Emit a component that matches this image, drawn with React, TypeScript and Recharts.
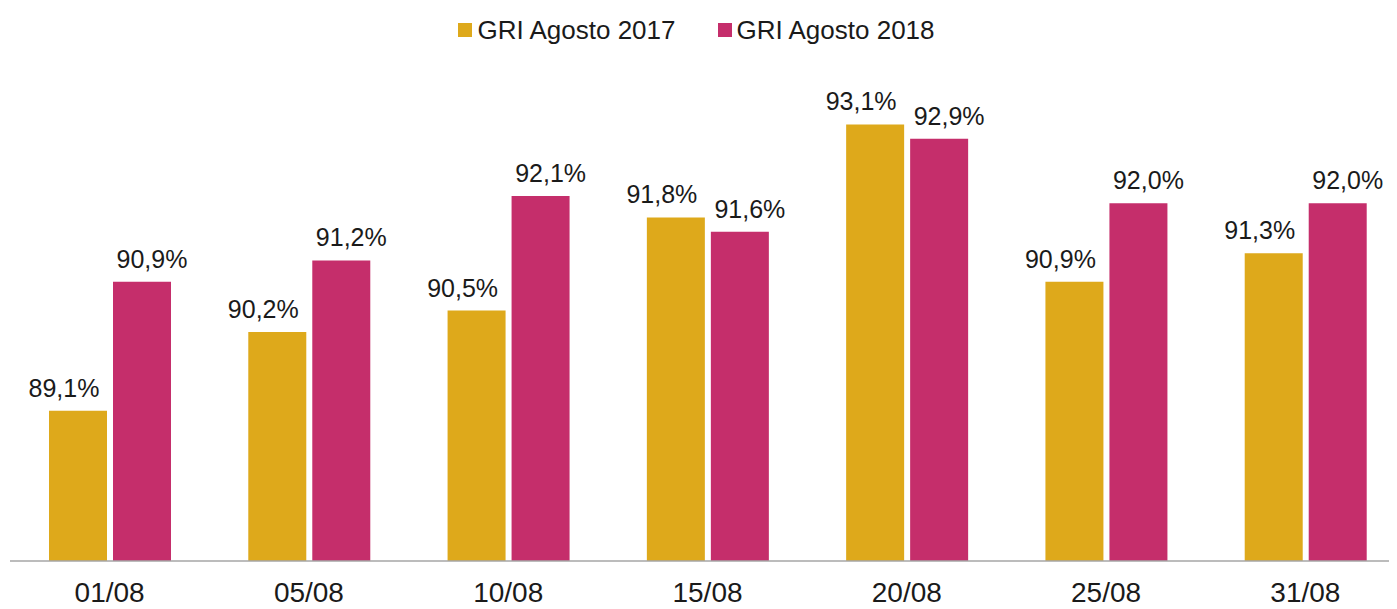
import React from 'react';
import { BarChart, Bar, XAxis, YAxis, Legend, LabelList } from 'recharts';

const categories = ['01/08', '05/08', '10/08', '15/08', '20/08', '25/08', '31/08'];
const gri2017 = [89.1, 90.2, 90.5, 91.8, 93.1, 90.9, 91.3];
const gri2018 = [90.9, 91.2, 92.1, 91.6, 92.9, 92.0, 92.0];

const data = categories.map((name, i) => ({
  name,
  gri2017: gri2017[i],
  gri2018: gri2018[i],
}));

const GOLD = '#DEA91B';
const MAGENTA = '#C52E6B';
const TEXT = '#1a1a1a';
const FONT = '"Liberation Sans", Arial, sans-serif';

const fmt = (v: number) => v.toFixed(1).replace('.', ',') + '%';

const makeLabel = (shift: number) => (props: any) => {
  const { x, y, width, value } = props;
  return (
    <text
      x={x + width / 2 + shift}
      y={y - 14}
      textAnchor="middle"
      fontSize={25}
      fontFamily={FONT}
      fill={TEXT}
    >
      {fmt(value)}
    </text>
  );
};

const renderLegend = (props: any) => {
  const { payload } = props;
  return (
    <div style={{ display: 'flex', justifyContent: 'center', gap: 42, height: 30 }}>
      {payload.map((entry: any) => (
        <div key={entry.value} style={{ display: 'flex', alignItems: 'center' }}>
          <span style={{ width: 14, height: 14, background: entry.color, marginRight: 5 }} />
          <span style={{ fontFamily: FONT, fontSize: 26, color: TEXT }}>{entry.value}</span>
        </div>
      ))}
    </div>
  );
};

const App: React.FC = () => {
  return (
    <div style={{ width: 1389, height: 601, overflow: 'hidden' }}>
      <BarChart
        width={1397}
        height={601}
        data={data}
        margin={{ top: 22, right: 0, left: 2, bottom: 0 }}
        barSize={58}
        barGap={6}
      >
        <Legend
          verticalAlign="top"
          content={renderLegend}
          wrapperStyle={{ top: 7, left: -10, width: 1397 }}
        />
        <XAxis
          dataKey="name"
          height={48}
          tickLine={false}
          tickSize={19}
          tickMargin={2}
          axisLine={{ stroke: '#a6a6a6', strokeWidth: 1.5 }}
          tick={{ fontSize: 28, fontFamily: FONT, fill: TEXT }}
          interval={0}
        />
        <YAxis hide domain={[87, 94]} allowDataOverflow />
        <Bar dataKey="gri2017" name="GRI Agosto 2017" fill={GOLD} isAnimationActive={false}>
          <LabelList dataKey="gri2017" content={makeLabel(-14)} />
        </Bar>
        <Bar dataKey="gri2018" name="GRI Agosto 2018" fill={MAGENTA} isAnimationActive={false}>
          <LabelList dataKey="gri2018" content={makeLabel(10)} />
        </Bar>
      </BarChart>
    </div>
  );
};

export default App;
